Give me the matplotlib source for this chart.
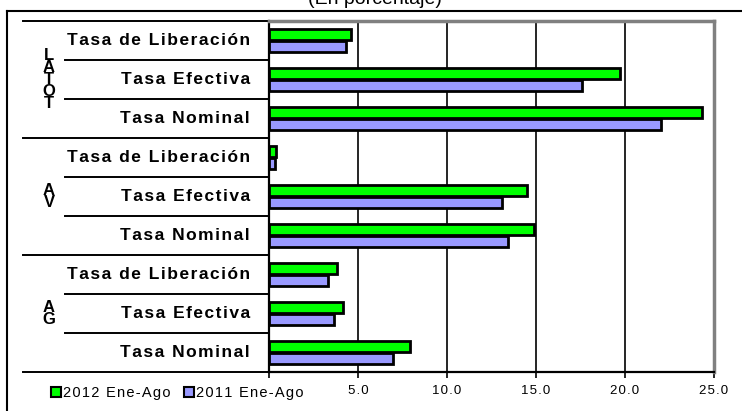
import matplotlib
matplotlib.use("Agg")
import matplotlib.pyplot as plt
from matplotlib.lines import Line2D
from matplotlib.patches import Patch
import matplotlib.transforms as mtransforms
import numpy as np

plt.rcParams['font.family'] = ['Liberation Sans', 'DejaVu Sans']

# ---- data ----
groups = ["TOTAL", "AV", "AG"]
group_labels = ["L\nA\nT\nO\nT", "A\nV", "A\nG"]
categories = ["Tasa de Liberación", "Tasa Efectiva", "Tasa Nominal"]
series_names = ["2012 Ene-Ago", "2011 Ene-Ago"]
vals_2012 = [4.6, 19.7, 24.3, 0.4, 14.5, 14.9, 3.8, 4.15, 7.9]
vals_2011 = [4.35, 17.6, 22.0, 0.35, 13.1, 13.4, 3.3, 3.65, 6.95]
xticks = [0, 5, 10, 15, 20, 25]
xtick_labels = ["", "5.0", "10.0", "15.0", "20.0", "25.0"]
title = "(En porcentaje)"

GREEN = "#00FF00"
BLUE = "#9999FF"
GRAY = "#808080"

def sp(s):
    return "\u200a".join(s)

W, H = 742, 411
fig = plt.figure(figsize=(W / 100, H / 100), dpi=100)
ax = fig.add_axes([269 / W, 1 - 372 / H, (714 - 269) / W, (372 - 21) / H])

n = len(vals_2012)
y = np.arange(n)
bh = 0.3
ax.barh(y - 0.155, vals_2012, height=bh, color=GREEN, edgecolor="black", linewidth=2, zorder=3)
ax.barh(y + 0.155, vals_2011, height=bh, color=BLUE, edgecolor="black", linewidth=2, zorder=3)

ax.set_xlim(0, 25)
ax.set_ylim(n - 0.5, -0.5)
ax.set_xticks(xticks)
ax.set_xticklabels([sp(t) for t in xtick_labels], fontsize=9.5)
ax.tick_params(axis="x", direction="out", length=4, width=1.2, pad=5)
ax.set_yticks([])
for xv in xticks[1:-1]:
    ax.axvline(xv, color="black", lw=1.2, zorder=1)

for s in ["top", "right"]:
    ax.spines[s].set_color(GRAY)
    ax.spines[s].set_linewidth(2.5)
for s in ["left", "bottom"]:
    ax.spines[s].set_color("black")
    ax.spines[s].set_linewidth(1.6)

# left table
trans = mtransforms.blended_transform_factory(ax.transAxes, ax.transData)
x_long = (23 - 269) / 445
x_short = (65 - 269) / 445
for b in np.arange(-0.5, n, 1.0):
    k = int(b + 0.5)
    x0 = x_long if k % 3 == 0 else x_short
    ax.plot([x0, 0], [b, b], transform=trans, color="black", lw=1.4, clip_on=False)

x_lab = (250 - 269) / 445
for i in range(n):
    ax.text(x_lab, i, sp(categories[i % 3]), transform=trans, ha="right", va="center",
            fontsize=12.5, fontweight="bold")

x_grp = (49 - 269) / 445
for g, lab in enumerate(group_labels):
    ax.text(x_grp, 3 * g + 1, lab, transform=trans, ha="center", va="center",
            fontsize=12, fontweight="bold", linespacing=0.74)

# outer frame
fig.add_artist(Line2D([7 / W, 1], [1 - 11 / H] * 2, transform=fig.transFigure, color="black", lw=1.5))
fig.add_artist(Line2D([7 / W] * 2, [0, 1 - 11 / H], transform=fig.transFigure, color="black", lw=1.5))

# title (cut at the top edge, as in the reference)
fig.text(375 / W, 1 - 4 / H, title, ha="center", va="baseline", fontsize=14)

# legend
handles = [Patch(facecolor=GREEN, edgecolor="black", linewidth=1.5),
           Patch(facecolor=BLUE, edgecolor="black", linewidth=1.5)]
fig.legend(handles, [sp(s) for s in series_names], loc="center left",
           bbox_to_anchor=(51 / W, 1 - 393 / H), ncol=2, frameon=False,
           handlelength=0.7, handleheight=0.7, handletextpad=0.12,
           columnspacing=0.9, borderpad=0, borderaxespad=0, fontsize=10.5)

fig.savefig("out.png", dpi=100)
